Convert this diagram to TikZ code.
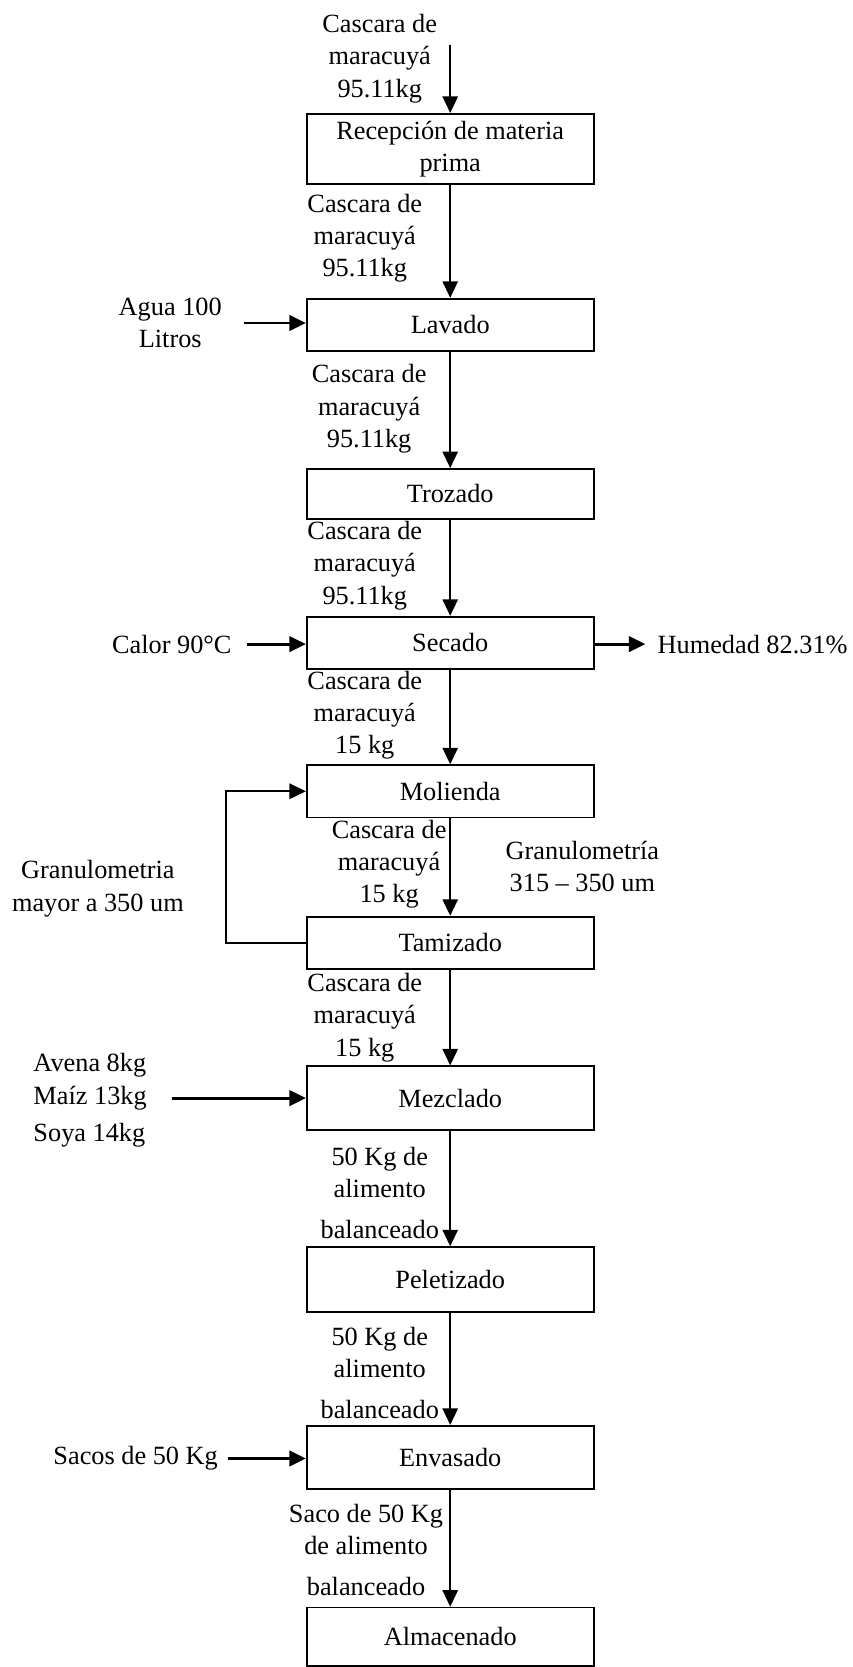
\documentclass[tikz,border=0pt]{standalone}
\usepackage{fontspec}
\setmainfont{Liberation Serif}
\usetikzlibrary{arrows.meta}

\begin{document}
\begin{tikzpicture}[
  etapa/.style={draw, line width=0.8pt, minimum width=4.6cm, inner sep=2pt, align=center, font=\fontsize{12}{14.8}\selectfont},
  dato/.style={align=center, inner sep=0pt, font=\fontsize{12}{14.8}\selectfont},
  flujo/.style={line width=0.7pt, -{Triangle[length=7.5pt,width=7pt]}},
  entrada/.style={line width=1.3pt, -{Triangle[length=7.5pt,width=7pt]}},
  retorno/.style={line width=0.9pt, -{Triangle[length=7.5pt,width=7pt]}}]
\useasboundingbox (0,0) rectangle (13.674,-26.734);

\node[etapa, minimum height=1.13cm] (recepcion) at (7.22,-2.39) {Recepción de materia\\prima};
\node[etapa, minimum height=0.84cm] (lavado) at (7.22,-5.21) {Lavado};
\node[etapa, minimum height=0.80cm] (trozado) at (7.22,-7.92) {Trozado};
\node[etapa, minimum height=0.84cm] (secado) at (7.22,-10.31) {Secado};
\node[etapa, minimum height=0.84cm] (molienda) at (7.22,-12.69) {Molienda};
\node[etapa, minimum height=0.84cm] (tamizado) at (7.22,-15.12) {Tamizado};
\node[etapa, minimum height=1.02cm] (mezclado) at (7.22,-17.61) {Mezclado};
\node[etapa, minimum height=1.04cm] (peletizado) at (7.22,-20.52) {Peletizado};
\node[etapa, minimum height=1.01cm] (envasado) at (7.22,-23.37) {Envasado};
\node[etapa, minimum height=0.94cm] (almacenado) at (7.22,-26.25) {Almacenado};

\node[dato] (m0) at (6.09,-0.94) {Cascara de\\maracuyá\\95.11kg};
\node[dato] (m1) at (5.85,-3.82) {Cascara de\\maracuyá\\95.11kg};
\node[dato] (m2) at (5.92,-6.56) {Cascara de\\maracuyá\\95.11kg};
\node[dato] (m3) at (5.85,-9.07) {Cascara de\\maracuyá\\95.11kg};
\node[dato] (m4) at (5.85,-11.47) {Cascara de\\maracuyá\\15 kg};
\node[dato] (m5) at (6.24,-13.86) {Cascara de\\maracuyá\\15 kg};
\node[dato] (m6) at (5.85,-16.32) {Cascara de\\maracuyá\\15 kg};
\node[dato] (m7) at (6.09,-19.13) {50 Kg de\\alimento\\[4pt]balanceado};
\node[dato] (m8) at (6.09,-22.02) {50 Kg de\\alimento\\[4pt]balanceado};
\node[dato] (m9) at (5.87,-24.86) {Saco de 50 Kg\\de alimento\\[4pt]balanceado};

\coordinate (inicio) at (7.22,-0.72);
\draw[flujo] (inicio) -- (recepcion);
\draw[flujo] (recepcion) -- (lavado);
\draw[flujo] (lavado) -- (trozado);
\draw[flujo] (trozado) -- (secado);
\draw[flujo] (secado) -- (molienda);
\draw[flujo] (molienda) -- (tamizado);
\draw[flujo] (tamizado) -- (mezclado);
\draw[flujo] (mezclado) -- (peletizado);
\draw[flujo] (peletizado) -- (envasado);
\draw[flujo] (envasado) -- (almacenado);

\node[dato] (agua) at (2.73,-5.18) {Agua 100\\Litros};
\coordinate (agua-in) at (3.92,-5.18);
\draw[entrada] (agua-in) -- (agua-in -| lavado.west);

\node[dato, anchor=east] (calor) at (3.72,-10.33) {Calor 90°C};
\coordinate (calor-in) at (3.96,-10.33);
\draw[entrada] (calor-in) -- (calor-in -| secado.west);

\node[dato, anchor=west] (humedad) at (10.54,-10.33) {Humedad 82.31\%};
\coordinate (humedad-out) at (10.35,-10.33);
\draw[entrada] (humedad-out -| secado.east) -- (humedad-out);

\node[dato] (mayor) at (1.57,-14.25) {Granulometria\\mayor a 350 um};
\node[dato] (rango) at (9.34,-13.90) {Granulometría\\315 -- 350 um};
\draw[retorno] (tamizado.west) -- ++(-1.28,0) |- (molienda.west);

\node[dato, anchor=west, align=left] (insumos) at (0.53,-17.645) {Avena 8kg\\Maíz 13kg\\[2pt]Soya 14kg};
\coordinate (insumos-in) at (2.76,-17.61);
\draw[entrada] (insumos-in) -- (insumos-in -| mezclado.west);

\node[dato, anchor=east] (sacos) at (3.50,-23.39) {Sacos de 50 Kg};
\coordinate (sacos-in) at (3.65,-23.39);
\draw[entrada] (sacos-in) -- (sacos-in -| envasado.west);
\end{tikzpicture}
\end{document}
